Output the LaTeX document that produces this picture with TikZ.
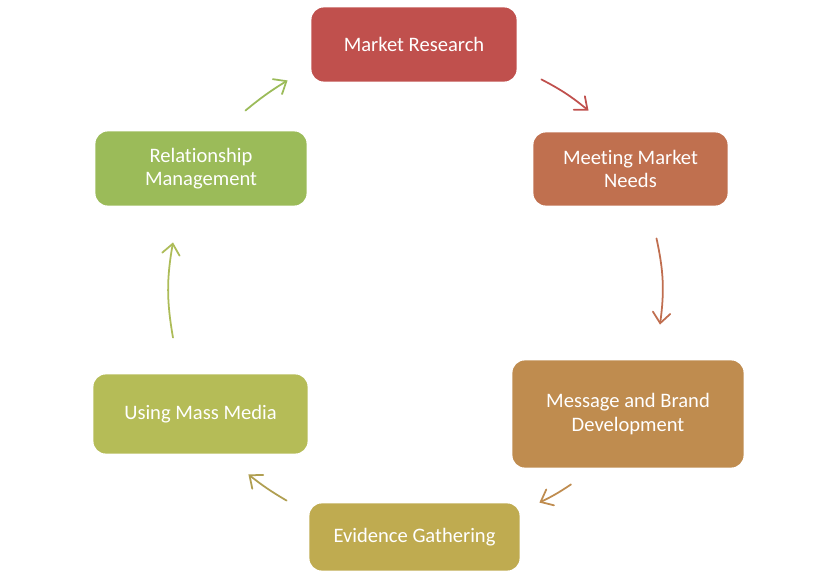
\documentclass[tikz,border=0pt]{standalone}
\usepackage{fontspec}
\setmainfont{Carlito}[Ligatures={NoCommon}]
\usepackage{xcolor}
\usetikzlibrary{arrows.meta,positioning}
\definecolor{mrfill}{HTML}{C0504D}
\definecolor{mmfill}{HTML}{C0704F}
\definecolor{mbfill}{HTML}{BF8C4F}
\definecolor{egfill}{HTML}{BFAB50}
\definecolor{umfill}{HTML}{B5BC57}
\definecolor{rmfill}{HTML}{9BBB59}
\tikzset{
  % cycle stages
  stage/.style={rounded corners=8pt,draw=white,line width=2.2pt,inner sep=0pt,
    text=white,align=center,font=\fontsize{11.7}{13.4}\selectfont},
  % cycle arrows
  cycarrow/.style={line width=1pt,line cap=round,
    -{Straight Barb[length=6pt,width=10pt,line cap=round]}},
}

\begin{document}
\begin{tikzpicture}[x=0.02cm,y=-0.02cm]
\useasboundingbox[fill=white] (0,0) rectangle (840,578);

%% ===== stages (clockwise from the top) =====
\node[stage,fill=mrfill,minimum width=4.18cm,minimum height=1.56cm] (mr)  at (414,44.5) {Market Research};
\node[stage,fill=mmfill,minimum width=3.96cm,minimum height=1.54cm] (mmn) at (630.5,169) {Meeting Market\\Needs};
\node[stage,fill=mbfill,minimum width=4.70cm,minimum height=2.22cm] (mbd) at (628,414) {Message and Brand\\Development};
\node[stage,fill=egfill,minimum width=4.28cm,minimum height=1.42cm] (eg)  at (414.5,537) {Evidence Gathering};
\node[stage,fill=umfill,minimum width=4.36cm,minimum height=1.66cm] (umm) at (200.5,414) {Using Mass Media};
\node[stage,fill=rmfill,minimum width=4.30cm,minimum height=1.56cm] (rm)  at (201,168.5) {Relationship\\Management};

%% ===== arrows between the stages =====
\draw[cycarrow,mrfill] ([shift={(21,-6)}]mr.south east) to[bend left=6] ([shift={(-42,-18)}]mmn.north);
\draw[cycarrow,mmfill!95!mrfill] ([shift={(26,29)}]mmn.south) to[bend left=10] ([shift={(32,-32)}]mbd.north);
\draw[cycarrow,mbfill] ([shift={(-57,13)}]mbd.south) to[bend left=4] ([shift={(16,3)}]eg.north east);
\draw[cycarrow,egfill!90!black!95] ([shift={(-19,1)}]eg.north west) to[bend left=4] ([shift={(-63,17)}]umm.south east);
\draw[cycarrow,umfill!70!rmfill] ([shift={(-27.5,-33)}]umm.north) to[bend left=10] ([shift={(-28,33)}]rm.south);
\draw[cycarrow,rmfill] ([shift={(-65,-17)}]rm.north east) to[bend left=4] ([shift={(-20,-5)}]mr.south west);
\end{tikzpicture}
\end{document}
